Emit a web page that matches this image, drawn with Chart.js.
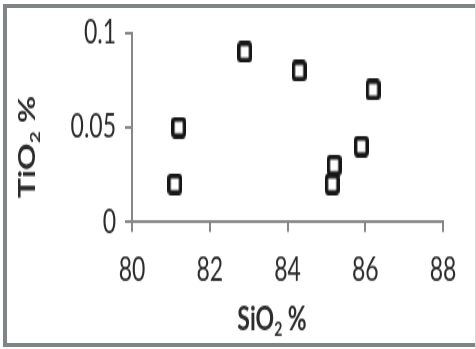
<!DOCTYPE html>
<html>
<head>
<meta charset="utf-8">
<script src="https://cdn.jsdelivr.net/npm/chart.js@4/dist/chart.umd.min.js"></script>
<style>
  html, body { margin: 0; padding: 0; background: #ffffff; }
  #page { position: relative; width: 476px; height: 349px; overflow: hidden; background: #fff; }
  #frame { position: absolute; left: 3px; top: 4px; width: 480px; height: 343px;
           box-sizing: border-box; border: 4px solid #7f8585; }
  #edge { position: absolute; left: 475px; top: 0; width: 1px; height: 349px; background: #d8dada; }
  #plot { position: absolute; left: 0; top: 0; width: 476px; height: 241px;
          transform: scaleY(1.448); transform-origin: 0 0; }
</style>
</head>
<body>
<div id="page">
  <div id="frame"></div>
  <div id="edge"></div>
  <div id="plot"><canvas id="chart" width="476" height="241"></canvas></div>
</div>
<script>
// SiO2 vs TiO2 content of the samples (weight %)
const sio2 = [81.1, 81.2, 82.9, 84.3, 85.15, 85.2, 85.9, 86.2];
const tio2 = [0.02, 0.05, 0.09, 0.08, 0.02, 0.03, 0.04, 0.07];
const xTicks = [80, 82, 84, 86, 88];
const yTicks = [0, 0.05, 0.1];
const xTitle = ['SiO', '2', ' %'];
const yTitle = ['TiO', '2', ' %'];

const textColor = '#2b2b2b';
const axisColor = '#878787';
const font = 'Lato, "Noto Sans", sans-serif';

// open square marker with slightly rounded corners
function squareMarker() {
  const c = document.createElement('canvas');
  c.width = 15; c.height = 15;
  const g = c.getContext('2d');
  g.strokeStyle = '#161616';
  g.lineWidth = 3.5;
  g.beginPath();
  g.roundRect(1.75, 1.75, 11.5, 11.5, 2);
  g.stroke();
  return c;
}

// axis title with a subscript digit
function drawSubTitle(ctx, parts, size) {
  const big = 'bold ' + size + 'px ' + font;
  const small = 'bold ' + Math.round(size * 0.62) + 'px ' + font;
  ctx.font = big;
  const w0 = ctx.measureText(parts[0]).width;
  const w2 = ctx.measureText(parts[2]).width;
  ctx.font = small;
  const w1 = ctx.measureText(parts[1]).width;
  let x = -(w0 + w1 + w2) / 2;
  ctx.textBaseline = 'alphabetic';
  ctx.textAlign = 'left';
  ctx.fillStyle = textColor;
  const base = size * 0.36;
  ctx.font = big; ctx.fillText(parts[0], x, base); x += w0;
  ctx.font = small; ctx.fillText(parts[1], x, base + size * 0.2); x += w1;
  ctx.font = big; ctx.fillText(parts[2], x, base);
}

const axisTitles = {
  id: 'axisTitles',
  afterDraw(chart) {
    const ctx = chart.ctx;
    ctx.save();
    ctx.translate(272, 219.5);
    drawSubTitle(ctx, xTitle, 23);
    ctx.restore();
    ctx.save();
    ctx.translate(27, 101.5);
    ctx.rotate(-Math.PI / 2);
    drawSubTitle(ctx, yTitle, 23);
    ctx.restore();
  }
};

new Chart(document.getElementById('chart'), {
  type: 'scatter',
  data: {
    datasets: [{
      data: sio2.map((x, i) => ({ x: x, y: tio2[i] })),
      pointStyle: squareMarker(),
      pointRadius: 7,
      pointHoverRadius: 7
    }]
  },
  options: {
    responsive: false,
    animation: false,
    devicePixelRatio: 1,
    layout: { padding: { left: 0, top: 22, right: 33, bottom: 0 } },
    plugins: { legend: { display: false }, tooltip: { enabled: false } },
    scales: {
      x: {
        type: 'linear',
        min: xTicks[0],
        max: xTicks[xTicks.length - 1],
        afterBuildTicks: s => { s.ticks = xTicks.map(v => ({ value: v })); },
        afterFit: s => { s.height = 87.7; },
        ticks: { color: textColor, font: { family: font, size: 23 }, padding: 12,
                 callback: v => String(v) },
        grid: { drawOnChartArea: false, drawTicks: true, tickLength: 7, color: axisColor, lineWidth: 2 },
        border: { color: axisColor, width: 2 }
      },
      y: {
        min: yTicks[0],
        max: yTicks[yTicks.length - 1],
        afterBuildTicks: s => { s.ticks = yTicks.map(v => ({ value: v })); },
        afterFit: s => { s.width = 132; },
        ticks: { color: textColor, font: { family: font, size: 23 }, padding: 9,
                 callback: v => String(v) },
        grid: { drawOnChartArea: false, drawTicks: true, tickLength: 7, color: axisColor, lineWidth: 2 },
        border: { color: axisColor, width: 2 }
      }
    }
  },
  plugins: [axisTitles]
});
</script>
</body>
</html>
